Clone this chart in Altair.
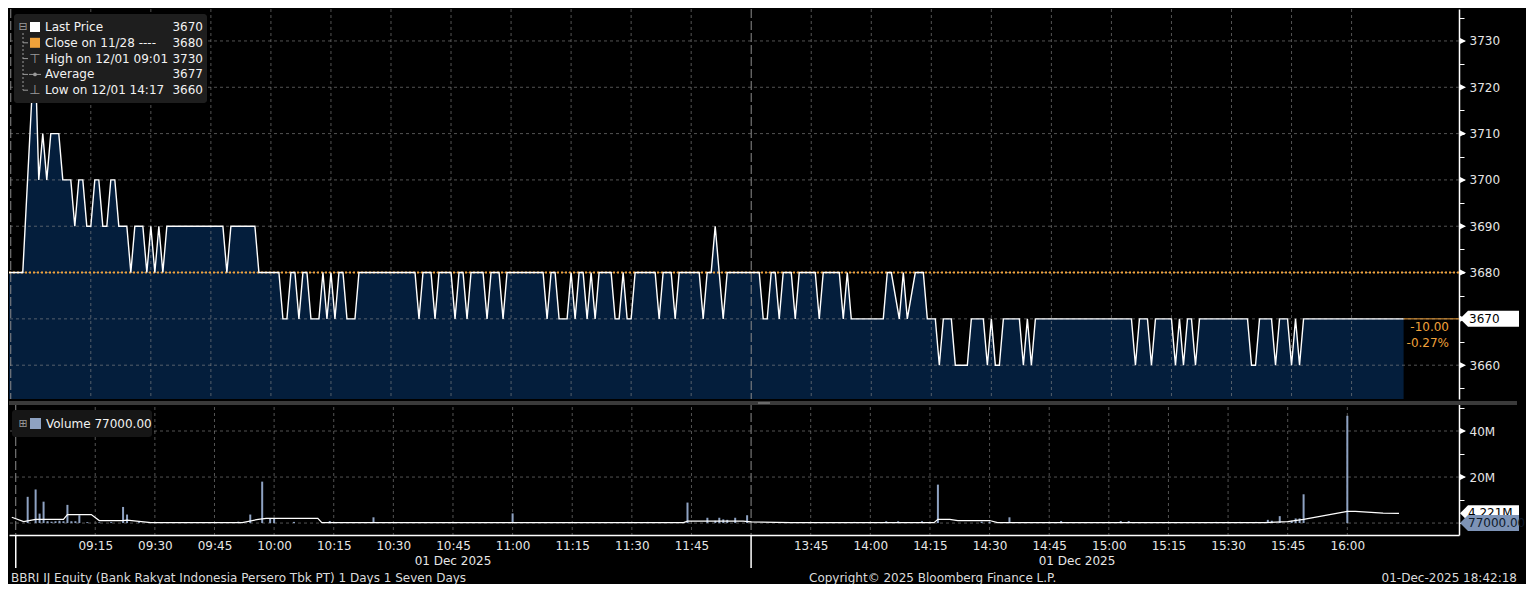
import altair as alt
import pandas as pd

# ------------------------------------------------------------------ data
# Vertices of the minute price path (session clock, IDR)
price_time = [
    "08:54", "08:58", "09:01", "09:02", "09:03", "09:04", "09:05", "09:07", "09:08", "09:10",
    "09:11", "09:12", "09:13", "09:14", "09:15", "09:16", "09:17", "09:18", "09:19", "09:20",
    "09:21", "09:22", "09:24", "09:25", "09:26", "09:28", "09:29", "09:30", "09:31", "09:32",
    "09:33", "09:34", "09:48", "09:49", "09:50", "09:56", "09:57", "10:02", "10:03", "10:04",
    "10:05", "10:06", "10:07", "10:08", "10:09", "10:10", "10:12", "10:13", "10:14", "10:15",
    "10:16", "10:17", "10:18", "10:19", "10:21", "10:22", "10:36", "10:37", "10:38", "10:40",
    "10:41", "10:42", "10:45", "10:46", "10:47", "10:48", "10:49", "10:50", "10:53", "10:54",
    "10:55", "10:57", "10:58", "10:59", "11:08", "11:09", "11:10", "11:11", "11:12", "11:14",
    "11:15", "11:16", "11:17", "11:18", "11:19", "11:20", "11:21", "11:22", "11:25", "11:26",
    "11:27", "11:28", "11:29", "11:30", "11:31", "11:36", "11:37", "11:38", "11:40", "11:41",
    "11:42", "11:47", "11:48", "11:49", "11:50", "11:51", "11:52", "11:53", "11:54", "13:32",
    "13:33", "13:34", "13:35", "13:36", "13:37", "13:38", "13:40", "13:41", "13:42", "13:46",
    "13:47", "13:48", "13:52", "13:53", "13:54", "13:55", "14:03", "14:04", "14:05", "14:07",
    "14:08", "14:09", "14:11", "14:13", "14:14", "14:16", "14:17", "14:18", "14:20", "14:21",
    "14:24", "14:25", "14:28", "14:29", "14:30", "14:31", "14:32", "14:33", "14:37", "14:38",
    "14:39", "14:40", "14:41", "15:05", "15:06", "15:07", "15:09", "15:10", "15:11", "15:15",
    "15:16", "15:17", "15:18", "15:19", "15:20", "15:21", "15:22", "15:34", "15:35", "15:36",
    "15:37", "15:40", "15:41", "15:42", "15:44", "15:45", "15:46", "15:47", "15:48", "16:13",
]
price_value = [
    3680, 3680, 3730, 3700, 3710, 3700, 3710, 3710, 3700, 3700,
    3690, 3700, 3700, 3690, 3690, 3700, 3700, 3690, 3690, 3700,
    3700, 3690, 3690, 3680, 3690, 3690, 3680, 3690, 3680, 3690,
    3680, 3690, 3690, 3680, 3690, 3690, 3680, 3680, 3670, 3670,
    3680, 3680, 3670, 3680, 3680, 3670, 3670, 3680, 3670, 3680,
    3670, 3680, 3680, 3670, 3670, 3680, 3680, 3670, 3680, 3680,
    3670, 3680, 3680, 3670, 3680, 3680, 3670, 3680, 3680, 3670,
    3680, 3680, 3670, 3680, 3680, 3670, 3680, 3680, 3670, 3670,
    3680, 3670, 3680, 3680, 3670, 3680, 3670, 3680, 3680, 3670,
    3670, 3680, 3670, 3670, 3680, 3680, 3670, 3680, 3680, 3670,
    3680, 3680, 3670, 3680, 3680, 3690, 3680, 3670, 3680, 3680,
    3670, 3670, 3680, 3680, 3670, 3680, 3680, 3670, 3680, 3680,
    3670, 3680, 3680, 3670, 3680, 3670, 3670, 3680, 3680, 3670,
    3680, 3670, 3680, 3680, 3670, 3670, 3660, 3670, 3670, 3660,
    3660, 3670, 3670, 3660, 3670, 3660, 3660, 3670, 3670, 3660,
    3670, 3660, 3670, 3670, 3660, 3670, 3670, 3660, 3670, 3670,
    3660, 3670, 3660, 3670, 3670, 3660, 3670, 3670, 3660, 3660,
    3670, 3670, 3660, 3670, 3670, 3660, 3670, 3660, 3670, 3670,
]
assert len(price_time) == len(price_value)

# Volume bars (millions of shares)
vol_time = [
    "08:58", "09:00", "09:01", "09:02", "09:03", "09:04", "09:05", "09:06", "09:07", "09:08",
    "09:09", "09:10", "09:11", "09:13", "09:16", "09:19", "09:22", "09:23", "09:26", "09:31",
    "09:38", "09:47", "09:51", "09:54", "09:57", "09:59", "10:00", "10:05", "10:14", "10:25",
    "10:33", "10:45", "10:52", "11:00", "11:12", "11:29", "11:34", "11:44", "11:49", "11:51",
    "11:52", "11:53", "11:54", "11:56", "11:59", "13:49", "13:56", "14:04", "14:07", "14:13",
    "14:17", "14:28", "14:30", "14:35", "14:41", "14:45", "14:48", "15:03", "15:05", "15:17",
    "15:27", "15:30", "15:33", "15:37", "15:40", "15:41", "15:43", "15:46", "15:47", "15:48",
    "15:49", "16:00", "16:13",
]
vol_value = [
    11.4, 14.6, 4.1, 9.3, 0.8, 0.6, 0.8, 1.0, 0.8, 7.9,
    0.8, 0.8, 3.4, 0.4, 0.3, 0.4, 7.0, 3.7, 0.4, 0.3,
    0.3, 0.4, 0.6, 3.7, 18.0, 2.0, 2.0, 0.5, 0.9, 2.5,
    0.4, 0.3, 0.3, 4.2, 0.3, 0.5, 0.5, 8.9, 2.3, 1.0,
    2.3, 1.6, 1.4, 2.3, 3.4, 0.3, 0.5, 0.8, 0.8, 0.8,
    16.7, 0.6, 0.5, 2.5, 0.4, 0.4, 0.9, 0.9, 0.9, 0.4,
    0.5, 0.4, 0.5, 0.5, 1.4, 1.0, 3.0, 1.0, 2.0, 2.0,
    12.5, 46.6, 0.077,
]
assert len(vol_time) == len(vol_value)

# Volume average line (millions)
avg_time = [
    "08:54", "08:57", "09:00", "09:07", "09:08", "09:14", "09:16", "09:22", "09:23", "09:29",
    "09:52", "09:56", "09:58", "10:11", "10:12", "11:43", "11:44", "11:58", "12:00", "13:40",
    "14:16", "14:17", "14:20", "14:22", "14:30", "14:32", "15:39", "15:45", "15:49", "16:00",
    "16:02", "16:09", "16:13",
]
avg_value = [
    2.5, 0.6, 1.6, 1.6, 3.7, 3.7, 1.1, 1.1, 1.3, 0.2,
    0.2, 1.6, 2.0, 2.0, 0.2, 0.2, 0.8, 0.8, 0.5, 0.2,
    0.2, 1.6, 1.6, 1.1, 1.1, 0.2, 0.2, 0.6, 1.6, 5.1,
    5.1, 4.3, 4.221,
]
assert len(avg_time) == len(avg_value)

x_tick_labels = ["09:15", "09:30", "09:45", "10:00", "10:15", "10:30", "10:45", "11:00",
                 "11:15", "11:30", "11:45", "13:45", "14:00", "14:15", "14:30", "14:45",
                 "15:00", "15:15", "15:30", "15:45", "16:00"]
session_marks = ["08:55", "12:00"]
date_label_times = ["10:45", "14:52"]
date_label_text = "01 Dec 2025"

price_ticks = [3660, 3670, 3680, 3690, 3700, 3710, 3720, 3730]
price_minor = [3655, 3660, 3665, 3670, 3675, 3680, 3685, 3690, 3695, 3700,
               3705, 3710, 3715, 3720, 3725, 3730, 3735]
vol_ticks = [20, 40]
vol_minor = [0, 10, 20, 30, 40, 50]
vol_grid = [0, 20, 40]

close_price = 3680
average_price = 3677
legend_names = ["Last Price", "Close on 11/28 ----", "High on 12/01 09:01", "Average",
                "Low on 12/01 14:17"]
volume_name = "Volume"
footer_left = "BBRI IJ Equity (Bank Rakyat Indonesia Persero Tbk PT) 1 Days 1 Seven Days"
footer_mid = "Copyright\u00a9 2025 Bloomberg Finance L.P."
footer_right = "01-Dec-2025 18:42:18"

# ------------------------------------------------------------------ layout / style
W, HP, HV = 1450, 390, 134
X_DOMAIN = [-5.44, 356.84]
P_DOMAIN = [3652.7, 3736.9]
V_DOMAIN = [-5.19, 53.04]

FONT = "DejaVu Sans"
FS = 12
NAVY = "#041e3c"
GRID = "#8a8a8a"
SESS = "#8c8c8c"
ORANGE = "#f0a23a"
VOLC = "#8ea2c2"
TXT = "#e6e6e6"
ICON = "#9a9a9a"


def sess(t):
    h, mm = (int(s) for s in t.split(":"))
    mins = (h - 9) * 60 + mm
    return mins - 90 if mins >= 270 else mins


xs = alt.Scale(domain=X_DOMAIN, nice=False, zero=False)
ps = alt.Scale(domain=P_DOMAIN, nice=False, zero=False)
vs = alt.Scale(domain=V_DOMAIN, nice=False, zero=False)

one = pd.DataFrame({"k": [0]})
price_df = pd.DataFrame({"m": [sess(t) for t in price_time], "p": price_value})
vol_df = pd.DataFrame({"m": [sess(t) for t in vol_time], "v": vol_value})
avg_df = pd.DataFrame({"m": [sess(t) for t in avg_time], "v": avg_value})
tick_m = [sess(t) for t in x_tick_labels]
grid_x_df = pd.DataFrame({"m": tick_m})
sess_df = pd.DataFrame({"m": [sess(t) for t in session_marks]})

last_p = price_value[-1]
last_m = sess(price_time[-1])
chg = last_p - close_price
pct = chg / close_price * 100
legend_values = [str(last_p), str(close_price), str(max(price_value)), str(average_price),
                 str(min(price_value))]
last_df = pd.DataFrame({"m": [last_m], "p": [last_p], "t": [str(last_p)]})

# ------------------------------------------------------------------ axes
price_label_list = ",".join(str(v) for v in price_ticks if v != last_p)
price_axis = alt.Axis(
    orient="right", values=price_minor,
    labelExpr=f"indexof([{price_label_list}], datum.value) >= 0 ? format(datum.value, 'd') : ''",
    grid=False, domainColor="#ffffff", domainWidth=1.5, tickColor="#ffffff", tickSize=5,
    tickWidth=1, labelColor=TXT, labelFont=FONT, labelFontSize=FS, labelPadding=5,
    labelBaseline="middle", labelFlush=False, labelOverlap=False, title=None)

vol_label_list = ",".join(str(v) for v in vol_ticks)
vol_axis = alt.Axis(
    orient="right", values=vol_minor,
    labelExpr=f"indexof([{vol_label_list}], datum.value) >= 0 ? datum.value + 'M' : ''",
    grid=False, domainColor="#ffffff", domainWidth=1.5, tickColor="#ffffff", tickSize=5,
    tickWidth=1, labelColor=TXT, labelFont=FONT, labelFontSize=FS, labelPadding=5,
    labelBaseline="middle", labelFlush=False, labelOverlap=False, title=None)

lab_arr = ",".join(f"'{t}'" for t in x_tick_labels)
m_arr = ",".join(str(m) for m in tick_m)
x_axis = alt.Axis(
    values=tick_m, labelExpr=f"[{lab_arr}][indexof([{m_arr}], datum.value)]",
    ticks=False, grid=False, domainColor="#ffffff", domainWidth=1.5, labelColor=TXT,
    labelFont=FONT, labelFontSize=FS, labelPadding=5, labelFlush=False,
    labelOverlap=False, title=None)


# price panel: no x axis, right y axis; volume panel: bottom x axis, right y axis
def PX(f="m"):
    return alt.X(f"{f}:Q", scale=xs, axis=None)


def PQ(f="p"):
    return alt.Y(f"{f}:Q", scale=ps, axis=price_axis)


def VX(f="m"):
    return alt.X(f"{f}:Q", scale=xs, axis=x_axis)


def VQ(f="v"):
    return alt.Y(f"{f}:Q", scale=vs, axis=vol_axis)


TRI_RIGHT = "M 0 -0.5 L 1 0 L 0 0.5 Z"
TRI_LEFT = "M -1 0 L 0 -1 L 0 1 Z"

# ------------------------------------------------------------------ price panel
p_layers = []
p_layers.append(alt.Chart(price_df).mark_area(color=NAVY, clip=True).encode(
    x=PX(), y=PQ(), y2=alt.datum(P_DOMAIN[0])))
p_layers.append(alt.Chart(pd.DataFrame({"p": price_ticks})).mark_rule(
    color=GRID, strokeDash=[3, 3], strokeWidth=1, opacity=0.6).encode(y=PQ()))
p_layers.append(alt.Chart(grid_x_df).mark_rule(
    color=GRID, strokeDash=[3, 3], strokeWidth=1, opacity=0.6).encode(x=PX()))
p_layers.append(alt.Chart(sess_df).mark_rule(
    color=SESS, strokeDash=[9, 3], strokeWidth=1).encode(x=PX()))
p_layers.append(alt.Chart(pd.DataFrame({"p": [close_price]})).mark_rule(
    color=ORANGE, strokeDash=[2, 2], strokeWidth=2).encode(y=PQ()))
p_layers.append(alt.Chart(price_df).mark_line(
    color="#ffffff", strokeWidth=1.4, clip=True).encode(x=PX(), y=PQ()))
p_layers.append(alt.Chart(last_df).mark_rule(color=ORANGE, strokeWidth=1).encode(
    x=PX(), x2=alt.value(W), y=PQ()))
p_layers.append(alt.Chart(last_df).mark_text(
    align="right", baseline="middle", dy=8, color=ORANGE, fontSize=FS, font=FONT,
    text=f"{chg:.2f}").encode(x=alt.value(W - 10), y=PQ()))
p_layers.append(alt.Chart(last_df).mark_text(
    align="right", baseline="middle", dy=24, color=ORANGE, fontSize=FS, font=FONT,
    text=f"{pct:.2f}%").encode(x=alt.value(W - 10), y=PQ()))
p_layers.append(alt.Chart(pd.DataFrame({"p": price_ticks})).mark_point(
    shape=TRI_RIGHT, filled=True, color="#ffffff", size=196, opacity=1, strokeWidth=0).encode(
    x=alt.value(W), y=PQ()))
p_layers.append(alt.Chart(last_df).mark_rect(color="#ffffff", yOffset=-8, y2Offset=8).encode(
    x=alt.value(W + 9), x2=alt.value(W + 60), y=PQ(), y2=alt.Y2("p:Q")))
p_layers.append(alt.Chart(last_df).mark_point(
    shape=TRI_LEFT, filled=True, color="#ffffff", size=256, opacity=1, strokeWidth=0).encode(
    x=alt.value(W + 9), y=PQ()))
p_layers.append(alt.Chart(last_df).mark_text(
    align="left", baseline="middle", color="#000000", fontSize=FS, font=FONT).encode(
    x=alt.value(W + 10), y=PQ(), text="t:N"))

# legend box
p_layers.append(alt.Chart(one).mark_rect(color="#1e1e1e", cornerRadius=3).encode(
    x=alt.value(5), x2=alt.value(198), y=alt.value(5), y2=alt.value(94)))
ROW0, ROWD = 18, 15.8
rows = [ROW0 + ROWD * i for i in range(len(legend_names))]
for i, (nm, vl) in enumerate(zip(legend_names, legend_values)):
    p_layers.append(alt.Chart(one).mark_text(
        align="left", baseline="middle", color="#f2f2f2", fontSize=FS, font=FONT,
        text=nm).encode(x=alt.value(36), y=alt.value(rows[i])))
    p_layers.append(alt.Chart(one).mark_text(
        align="right", baseline="middle", color="#f2f2f2", fontSize=FS, font=FONT,
        text=vl).encode(x=alt.value(194), y=alt.value(rows[i])))
# tree
p_layers.append(alt.Chart(one).mark_text(
    align="center", baseline="middle", color=ICON, fontSize=11, font=FONT, text="\u229f").encode(
    x=alt.value(14), y=alt.value(rows[0])))
p_layers.append(alt.Chart(one).mark_rule(color=ICON, strokeDash=[2, 2], strokeWidth=1).encode(
    x=alt.value(14), y=alt.value(rows[0] + 6), y2=alt.value(rows[-1])))
for r in rows[1:]:
    p_layers.append(alt.Chart(one).mark_rule(color=ICON, strokeWidth=1).encode(
        x=alt.value(14), x2=alt.value(19), y=alt.value(r)))
# icons
p_layers.append(alt.Chart(one).mark_rect(color="#ffffff").encode(
    x=alt.value(21), x2=alt.value(31), y=alt.value(rows[0] - 5), y2=alt.value(rows[0] + 5)))
p_layers.append(alt.Chart(one).mark_rect(color=ORANGE).encode(
    x=alt.value(21), x2=alt.value(31), y=alt.value(rows[1] - 5), y2=alt.value(rows[1] + 5)))
p_layers.append(alt.Chart(one).mark_text(
    align="center", baseline="middle", color=ICON, fontSize=13, font=FONT, text="\u22a4").encode(
    x=alt.value(26), y=alt.value(rows[2])))
p_layers.append(alt.Chart(one).mark_rule(color=ICON, strokeWidth=1).encode(
    x=alt.value(20), x2=alt.value(32), y=alt.value(rows[3])))
p_layers.append(alt.Chart(one).mark_point(
    shape="circle", filled=True, color=ICON, size=14, opacity=1).encode(
    x=alt.value(26), y=alt.value(rows[3])))
p_layers.append(alt.Chart(one).mark_text(
    align="center", baseline="middle", color=ICON, fontSize=13, font=FONT, text="\u22a5").encode(
    x=alt.value(26), y=alt.value(rows[4])))

price_chart = alt.layer(*p_layers).properties(width=W, height=HP)

# ------------------------------------------------------------------ volume panel
v_layers = []
v_layers.append(alt.Chart(pd.DataFrame({"v": vol_grid})).mark_rule(
    color=GRID, strokeDash=[3, 3], strokeWidth=1, opacity=0.6).encode(y=VQ()))
v_layers.append(alt.Chart(grid_x_df).mark_rule(
    color=GRID, strokeDash=[3, 3], strokeWidth=1, opacity=0.6).encode(x=VX()))
v_layers.append(alt.Chart(sess_df).mark_rule(
    color=SESS, strokeDash=[9, 3], strokeWidth=1).encode(x=VX()))
v_layers.append(alt.Chart(vol_df).mark_bar(width=2, color=VOLC, clip=True).encode(
    x=VX(), y=VQ(), y2=alt.datum(0)))
v_layers.append(alt.Chart(avg_df).mark_line(color="#ffffff", strokeWidth=1.2, clip=True).encode(
    x=VX(), y=VQ()))
v_layers.append(alt.Chart(one).mark_rect(color="#3a3a3a").encode(
    x=alt.value(0), x2=alt.value(W + 58), y=alt.value(0), y2=alt.value(4)))
v_layers.append(alt.Chart(one).mark_rect(color="#6a6a6a").encode(
    x=alt.value(749), x2=alt.value(761), y=alt.value(1), y2=alt.value(3)))
v_layers.append(alt.Chart(pd.DataFrame({"v": vol_ticks})).mark_point(
    shape=TRI_RIGHT, filled=True, color="#ffffff", size=196, opacity=1, strokeWidth=0).encode(
    x=alt.value(W), y=VQ()))

avg_last = pd.DataFrame({"v": [avg_value[-1]], "t": [f"{avg_value[-1]:.3f}M"]})
vol_last = pd.DataFrame({"v": [vol_value[-1]], "t": [f"{vol_value[-1] * 1e6:.2f}"]})
for dfl, fill, tcol in [(avg_last, "#ffffff", "#000000"), (vol_last, "#7d93b6", "#0e1a2b")]:
    v_layers.append(alt.Chart(dfl).mark_rect(color=fill, yOffset=-8, y2Offset=8).encode(
        x=alt.value(W + 9), x2=alt.value(W + 60), y=VQ(), y2=alt.Y2("v:Q")))
    v_layers.append(alt.Chart(dfl).mark_point(
        shape=TRI_LEFT, filled=True, color=fill, size=256, opacity=1, strokeWidth=0).encode(
        x=alt.value(W + 9), y=VQ()))
    v_layers.append(alt.Chart(dfl).mark_text(
        align="left", baseline="middle", color=tcol, fontSize=FS, font=FONT).encode(
        x=alt.value(W + 9), y=VQ(), text="t:N"))

# volume legend
v_layers.append(alt.Chart(one).mark_rect(color="#161616", cornerRadius=3).encode(
    x=alt.value(3), x2=alt.value(143), y=alt.value(9), y2=alt.value(36)))
v_layers.append(alt.Chart(one).mark_text(
    align="center", baseline="middle", color=ICON, fontSize=11, font=FONT, text="\u229e").encode(
    x=alt.value(14), y=alt.value(22.5)))
v_layers.append(alt.Chart(one).mark_rect(color=VOLC).encode(
    x=alt.value(21), x2=alt.value(32), y=alt.value(17), y2=alt.value(28)))
v_layers.append(alt.Chart(one).mark_text(
    align="left", baseline="middle", color="#f2f2f2", fontSize=FS, font=FONT,
    text=f"{volume_name} {vol_value[-1] * 1e6:.2f}").encode(x=alt.value(37), y=alt.value(22.5)))

# below the axis
v_layers.append(alt.Chart(sess_df).mark_rule(color="#ffffff", strokeWidth=1.5).encode(
    x=VX(), y=alt.value(HV), y2=alt.value(HV + 33)))
v_layers.append(alt.Chart(pd.DataFrame({"m": [sess(t) for t in date_label_times],
                                         "t": [date_label_text] * len(date_label_times)}))
                .mark_text(align="center", baseline="middle", color=TXT, fontSize=FS, font=FONT)
                .encode(x=VX(), y=alt.value(HV + 26), text="t:N"))
for txt, xpos, al in [(footer_left, 2, "left"), (footer_mid, 800, "left"),
                      (footer_right, W + 58, "right")]:
    v_layers.append(alt.Chart(one).mark_text(
        align=al, baseline="middle", color="#dcdcdc", fontSize=FS, font=FONT, text=txt).encode(
        x=alt.value(xpos), y=alt.value(HV + 43)))

vol_chart = alt.layer(*v_layers).properties(width=W, height=HV)

chart = alt.vconcat(price_chart, vol_chart, spacing=0).properties(
    background="#000000", padding=0).configure_view(stroke=None)

chart.save("out.html", embed_options={"renderer": "svg", "actions": False})
